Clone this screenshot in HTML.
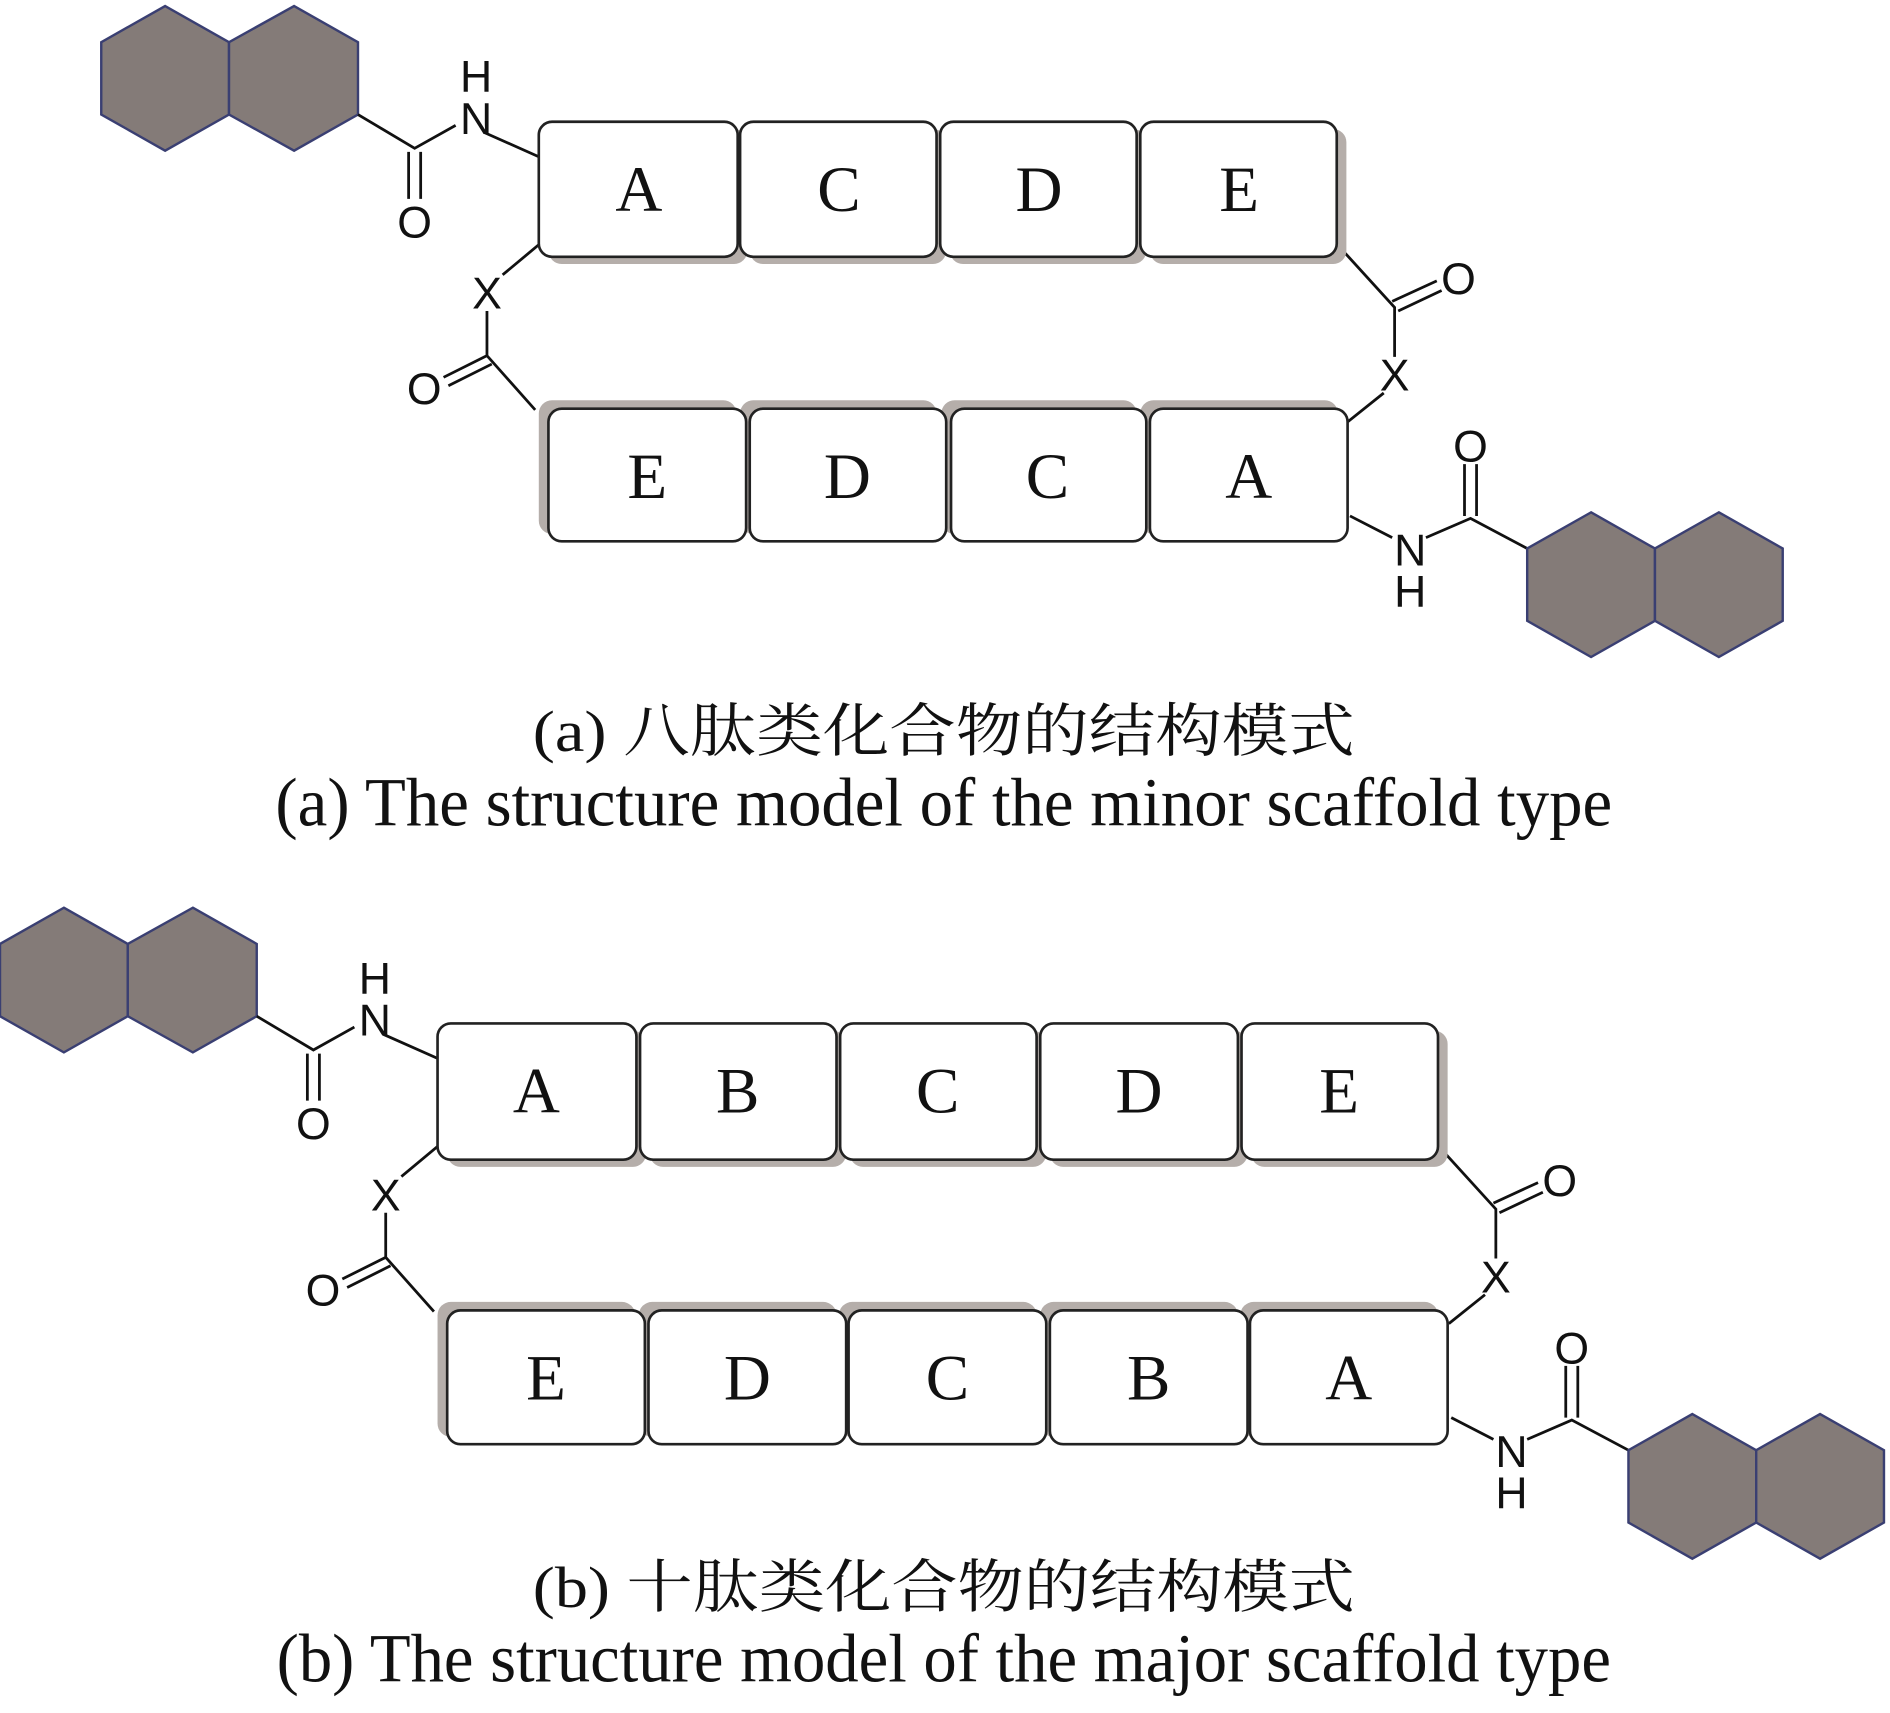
<!DOCTYPE html>
<html><head><meta charset="utf-8"><style>
html,body{margin:0;padding:0;background:#fff}
svg{display:block}
.b{fill:#fff;stroke:#222;stroke-width:2.2}
.s{fill:#b5aeaa}
.l{stroke:#111;stroke-width:2.3;fill:none}
.hx{fill:#847b78;stroke:#3a3f72;stroke-width:2}
.t{font-family:"Liberation Serif",serif;font-size:54px;fill:#111;text-anchor:middle}
.c{font-family:"Liberation Sans",sans-serif;font-size:37px;fill:#111;text-anchor:middle}
.cap{font-family:"Liberation Serif","Noto Serif CJK SC",serif;fill:#111;text-anchor:middle}
</style></head><body>
<svg width="1890" height="1713" viewBox="0 0 1568 1421" preserveAspectRatio="none" xmlns="http://www.w3.org/2000/svg">
<defs>
<g id="L">
<polygon class="hx" points="137,5 190,35 190,95 137,125 84,95 84,35"/>
<polygon class="hx" points="244,5 297,35 297,95 244,125 190,95 190,35"/>
<path class="l" d="M297,95 L344,123 L378,104 M339,126 V165 M349,126 V165 M402,110 L447,130"/>
<text class="c" x="395" y="111">N</text>
<text class="c" x="395" y="76">H</text>
<text class="c" x="344" y="197">O</text>
<path class="l" d="M447,203 L417,228 M404,258 V295 L444,340 M404,295 L368,313 M408,302 L372,320"/>
<text class="c" x="404" y="256">X</text>
<text class="c" x="352" y="335">O</text>
</g>
<g id="R">
<path class="l" d="M1116,210 L1157,255 V296 M1155,250 L1192,233 M1160,258 L1196,241 M1148,326 L1118,350"/>
<text class="c" x="1210" y="244">O</text>
<text class="c" x="1157" y="324">X</text>
<path class="l" d="M1120,428 L1155,446 M1183,446 L1220,430 L1267,455 M1215,428 V385 M1225,428 V385"/>
<text class="c" x="1170" y="469">N</text>
<text class="c" x="1170" y="503">H</text>
<text class="c" x="1220" y="383">O</text>
<polygon class="hx" points="1320,425 1373,455 1373,515 1320,545 1267,515 1267,455"/>
<polygon class="hx" points="1426,425 1479,455 1479,515 1426,545 1373,515 1373,455"/>
</g>
</defs>

<use href="#L"/>
<use href="#R"/>
<g>
<rect class="s" x="455" y="107" width="165" height="112" rx="11"/>
<rect class="s" x="622" y="107" width="163" height="112" rx="11"/>
<rect class="s" x="788" y="107" width="163" height="112" rx="11"/>
<rect class="s" x="954" y="107" width="163" height="112" rx="11"/>
<rect class="b" x="447" y="101" width="165" height="112" rx="11"/>
<rect class="b" x="614" y="101" width="163" height="112" rx="11"/>
<rect class="b" x="780" y="101" width="163" height="112" rx="11"/>
<rect class="b" x="946" y="101" width="163" height="112" rx="11"/>
<text class="t" x="530" y="175">A</text><text class="t" x="696" y="175">C</text><text class="t" x="862" y="175">D</text><text class="t" x="1028" y="175">E</text>
<rect class="s" x="447" y="332" width="164" height="111" rx="11"/>
<rect class="s" x="614" y="332" width="163" height="111" rx="11"/>
<rect class="s" x="781" y="332" width="162" height="111" rx="11"/>
<rect class="s" x="946" y="332" width="164" height="111" rx="11"/>
<rect class="b" x="455" y="339" width="164" height="110" rx="11"/>
<rect class="b" x="622" y="339" width="163" height="110" rx="11"/>
<rect class="b" x="789" y="339" width="162" height="110" rx="11"/>
<rect class="b" x="954" y="339" width="164" height="110" rx="11"/>
<text class="t" x="537" y="413">E</text><text class="t" x="703" y="413">D</text><text class="t" x="869" y="413">C</text><text class="t" x="1036" y="413">A</text>
</g>
<text class="cap" x="783" y="623" font-size="48" textLength="682" lengthAdjust="spacingAndGlyphs">(a) 八肽类化合物的结构模式</text>
<text class="cap" x="783" y="685" font-size="57" textLength="1109" lengthAdjust="spacingAndGlyphs">(a) The structure model of the minor scaffold type</text>

<use href="#L" transform="translate(-84,748)"/>
<use href="#R" transform="translate(84,748)"/>
<g>
<rect class="s" x="371" y="855" width="165" height="113" rx="11"/>
<rect class="s" x="539" y="855" width="163" height="113" rx="11"/>
<rect class="s" x="705" y="855" width="163" height="113" rx="11"/>
<rect class="s" x="871" y="855" width="164" height="113" rx="11"/>
<rect class="s" x="1038" y="855" width="163" height="113" rx="11"/>
<rect class="b" x="363" y="849" width="165" height="113" rx="11"/>
<rect class="b" x="531" y="849" width="163" height="113" rx="11"/>
<rect class="b" x="697" y="849" width="163" height="113" rx="11"/>
<rect class="b" x="863" y="849" width="164" height="113" rx="11"/>
<rect class="b" x="1030" y="849" width="163" height="113" rx="11"/>
<text class="t" x="445" y="923">A</text><text class="t" x="612" y="923">B</text><text class="t" x="778" y="923">C</text><text class="t" x="945" y="923">D</text><text class="t" x="1111" y="923">E</text>
<rect class="s" x="363" y="1080" width="164" height="112" rx="11"/>
<rect class="s" x="530" y="1080" width="164" height="112" rx="11"/>
<rect class="s" x="696" y="1080" width="164" height="112" rx="11"/>
<rect class="s" x="863" y="1080" width="164" height="112" rx="11"/>
<rect class="s" x="1029" y="1080" width="164" height="112" rx="11"/>
<rect class="b" x="371" y="1087" width="164" height="111" rx="11"/>
<rect class="b" x="538" y="1087" width="164" height="111" rx="11"/>
<rect class="b" x="704" y="1087" width="164" height="111" rx="11"/>
<rect class="b" x="871" y="1087" width="164" height="111" rx="11"/>
<rect class="b" x="1037" y="1087" width="164" height="111" rx="11"/>
<text class="t" x="453" y="1161">E</text><text class="t" x="620" y="1161">D</text><text class="t" x="786" y="1161">C</text><text class="t" x="953" y="1161">B</text><text class="t" x="1119" y="1161">A</text>
</g>
<text class="cap" x="783" y="1333" font-size="48" textLength="682" lengthAdjust="spacingAndGlyphs">(b) 十肽类化合物的结构模式</text>
<text class="cap" x="783" y="1395" font-size="57" textLength="1107" lengthAdjust="spacingAndGlyphs">(b) The structure model of the major scaffold type</text>
</svg>
</body></html>
